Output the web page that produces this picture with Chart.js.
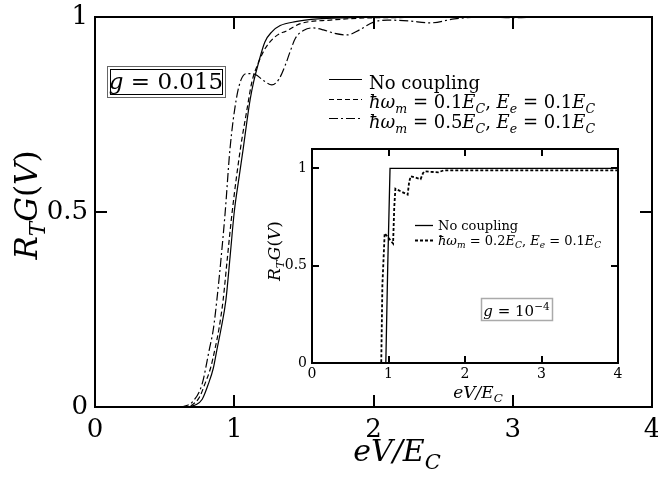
<!DOCTYPE html>
<html>
<head>
<meta charset="utf-8">
<script src="https://cdn.jsdelivr.net/npm/chart.js@4.4.0/dist/chart.umd.min.js"></script>
<style>
  body { margin: 0; background: #fff; }
  #wrap { position: relative; width: 658px; height: 477px; background: #fff; }
  #mainChart { position: absolute; left: 0; top: 0; }
  #insetChart { position: absolute; left: 240px; top: 140px; }
</style>
</head>
<body>
<div id="wrap">
  <canvas id="mainChart" width="658" height="477"></canvas>
  <canvas id="insetChart" width="400" height="270"></canvas>
</div>
<script>
// main panel (g = 0.015): eV/E_C vs R_T G(V)
const xNoCoupling = [0, 0.62, 0.68, 0.72, 0.77, 0.815, 0.85, 0.875, 0.905, 0.94, 0.97, 1.0, 1.035, 1.065, 1.09, 1.115, 1.14, 1.17, 1.22, 1.27, 1.33, 1.44, 1.6, 1.8, 2.1, 3.5];
const yNoCoupling = [0, 0, 0.001, 0.005, 0.02, 0.06, 0.1, 0.146, 0.2, 0.274, 0.385, 0.5, 0.59, 0.664, 0.73, 0.79, 0.835, 0.877, 0.936, 0.962, 0.978, 0.988, 0.995, 0.998, 1, 1];

const xOmega01 = [0, 0.61, 0.66, 0.7, 0.75, 0.79, 0.83, 0.86, 0.89, 0.92, 0.95, 0.985, 1.045, 1.09, 1.127, 1.17, 1.223, 1.28, 1.33, 1.367, 1.475, 1.69, 2.0, 3.5];
const yOmega01 = [0, 0, 0.001, 0.006, 0.025, 0.06, 0.1, 0.146, 0.2, 0.274, 0.38, 0.5, 0.664, 0.76, 0.834, 0.88, 0.92, 0.945, 0.958, 0.963, 0.983, 0.992, 0.998, 1];

const xOmega05 = [0, 0.59, 0.64, 0.7, 0.77, 0.82, 0.85, 0.875, 0.905, 0.935, 0.97, 1.015, 1.05, 1.09, 1.15, 1.21, 1.27, 1.32, 1.367, 1.4, 1.44, 1.5, 1.56, 1.64, 1.72, 1.81, 1.9, 2.0, 2.1, 2.25, 2.41, 2.58, 2.8, 3.0, 3.2, 3.5];
const yOmega05 = [0, 0, 0.002, 0.013, 0.06, 0.146, 0.2, 0.274, 0.38, 0.5, 0.664, 0.79, 0.84, 0.855, 0.853, 0.837, 0.826, 0.84, 0.877, 0.91, 0.946, 0.966, 0.972, 0.967, 0.958, 0.954, 0.967, 0.987, 0.992, 0.99, 0.985, 0.995, 1, 0.998, 1, 1];

// inset (g = 1e-4)
const xInsetNoCoupling = [0, 0.965, 0.99, 1.02, 4];
const yInsetNoCoupling = [0, 0, 0.5, 1, 1];

const xInsetOmega02 = [0, 0.905, 0.92, 0.95, 1.06, 1.075, 1.09, 1.25, 1.27, 1.29, 1.42, 1.45, 1.47, 1.65, 1.72, 4];
const yInsetOmega02 = [0, 0, 0.4, 0.667, 0.614, 0.8, 0.896, 0.865, 0.93, 0.96, 0.945, 0.975, 0.985, 0.98, 0.99, 0.99];

// ticks
const mainXTicks = [0, 1, 2, 3, 4];
const mainXLabels = ['0', '1', '2', '3', '4'];
const mainYTicks = [0, 0.5, 1];
const mainYLabels = ['0', '0.5', '1'];
const insetXTicks = [0, 1, 2, 3, 4];
const insetXLabels = ['0', '1', '2', '3', '4'];
const insetYTicks = [0, 0.5, 1];
const insetYLabels = ['0', '0.5', '1'];

// texts (runs: [text, style]; i = italic, b = subscript, p = superscript)
const xTitleRuns = [['eV/E', 'i'], ['C', 'ib']];
const yTitleRuns = [['R', 'i'], ['T', 'ib'], ['G', 'i'], ['(', 'r'], ['V', 'i'], [')', 'r']];
const mainLegendRuns = [
    [['No coupling', 'r']],
    [['ħω', 'i'], ['m', 'ib'], [' = 0.1', 'r'], ['E', 'i'], ['C', 'ib'], [', ', 'r'], ['E', 'i'], ['e', 'ib'], [' = 0.1', 'r'], ['E', 'i'], ['C', 'ib']],
    [['ħω', 'i'], ['m', 'ib'], [' = 0.5', 'r'], ['E', 'i'], ['C', 'ib'], [', ', 'r'], ['E', 'i'], ['e', 'ib'], [' = 0.1', 'r'], ['E', 'i'], ['C', 'ib']]
];
const insetLegendRuns = [
    [['No coupling', 'r']],
    [['ħω', 'i'], ['m', 'ib'], [' = 0.2', 'r'], ['E', 'i'], ['C', 'ib'], [', ', 'r'], ['E', 'i'], ['e', 'ib'], [' = 0.1', 'r'], ['E', 'i'], ['C', 'ib']]
];
const mainGRuns = [['g', 'i'], [' = 0.015', 'r']];
const insetGRuns = [['g', 'i'], [' = 10', 'r'], ['−4', 'rp']];

const SERIF = '"DejaVu Serif", serif';
const pts = (xs, ys) => xs.map((x, i) => ({ x: x, y: ys[i] }));

function runFont(style, size) {
    const it = style.includes('i') ? 'italic ' : '';
    const s = (style.includes('b') || style.includes('p')) ? size * 0.7 : size;
    return it + s + 'px ' + SERIF;
}

function drawMath(ctx, runs, x, y, size, align) {
    ctx.save();
    ctx.textBaseline = 'alphabetic';
    ctx.textAlign = 'left';
    ctx.fillStyle = '#000';
    let w = 0;
    runs.forEach(([t, st]) => { ctx.font = runFont(st, size); w += ctx.measureText(t).width; });
    let cx = align === 'center' ? x - w / 2 : x;
    runs.forEach(([t, st]) => {
        ctx.font = runFont(st, size);
        const dy = st.includes('b') ? size * 0.25 : (st.includes('p') ? -size * 0.4 : 0);
        ctx.fillText(t, cx, y + dy);
        cx += ctx.measureText(t).width;
    });
    ctx.restore();
}

// frame, inward ticks, titles, legend and label box
function makeDecor(o) {
    return {
        id: 'decor',
        beforeDraw(chart) {
            const { ctx, chartArea: a } = chart;
            if (o.fillArea) {
                ctx.save();
                ctx.fillStyle = '#fff';
                ctx.fillRect(a.left, a.top, a.width, a.height);
                ctx.restore();
            }
        },
        afterDraw(chart) {
            const ctx = chart.ctx;
            const a = chart.chartArea;
            const L = o.tickLen;
            const px = o.xTicks.map(v => Math.round(chart.scales.x.getPixelForValue(v)));
            const py = o.yTicks.map(v => Math.round(chart.scales.y.getPixelForValue(v)));
            ctx.save();
            ctx.strokeStyle = '#000';
            px.forEach(x => {
                ctx.beginPath(); ctx.lineWidth = o.tickWidth;
                ctx.moveTo(x, a.bottom); ctx.lineTo(x, a.bottom - L);
                ctx.moveTo(x, a.top); ctx.lineTo(x, a.top + L);
                ctx.stroke();
            });
            py.forEach(y => {
                ctx.beginPath(); ctx.lineWidth = o.tickWidth;
                ctx.moveTo(a.left, y); ctx.lineTo(a.left + L, y);
                ctx.moveTo(a.right, y); ctx.lineTo(a.right - L, y);
                ctx.stroke();
            });
            ctx.lineWidth = o.frameWidth;
            ctx.strokeRect(a.left, a.top, a.right - a.left, a.bottom - a.top);

            // legend
            const lg = o.legend;
            chart.data.datasets.forEach((ds, i) => {
                ctx.save();
                ctx.setLineDash(ds.borderDash || []);
                ctx.beginPath();
                ctx.lineWidth = ds.borderWidth;
                ctx.moveTo(lg.x0, lg.lineY[i]);
                ctx.lineTo(lg.x1, lg.lineY[i]);
                ctx.stroke();
                ctx.restore();
                drawMath(ctx, lg.runs[i], lg.textX, lg.baseY[i], lg.size, 'left');
            });

            // label box
            const b = o.box;
            ctx.strokeStyle = b.color;
            ctx.lineWidth = b.width;
            ctx.strokeRect(b.x + 0.5, b.y + 0.5, b.w, b.h);
            if (b.inner) {
                ctx.strokeStyle = '#000';
                ctx.lineWidth = 1;
                ctx.strokeRect(b.x + 3.5, b.y + 3.5, b.w - 6, b.h - 6);
            }
            drawMath(ctx, b.runs, b.x + b.w / 2, b.baseY, b.size, 'center');

            // axis titles
            const xt = o.xTitle;
            drawMath(ctx, xTitleRuns, xt.x, xt.y, xt.size, 'center');
            const yt = o.yTitle;
            ctx.translate(yt.x, yt.y);
            ctx.rotate(-Math.PI / 2);
            drawMath(ctx, yTitleRuns, 0, 0, yt.size, 'center');
            ctx.restore();
        }
    };
}

function axes(xTicks, xLabels, yTicks, yLabels, yMax, fontSize, yWidth, xHeight, yPad, xPad) {
    return {
        x: {
            type: 'linear', min: 0, max: 4,
            grid: { display: false, drawTicks: false },
            border: { display: false },
            afterBuildTicks: s => { s.ticks = xTicks.map(v => ({ value: v })); },
            afterFit: s => { s.height = xHeight; s.paddingLeft = 0; s.paddingRight = 0; },
            ticks: { color: '#000', font: { family: SERIF, size: fontSize }, padding: xPad, maxRotation: 0, autoSkip: false, callback: (v, i) => xLabels[i] }
        },
        y: {
            type: 'linear', min: 0, max: yMax,
            grid: { display: false, drawTicks: false },
            border: { display: false },
            afterBuildTicks: s => { s.ticks = yTicks.map(v => ({ value: v })); },
            afterFit: s => { s.width = yWidth; s.paddingTop = 0; s.paddingBottom = 0; },
            ticks: { color: '#000', font: { family: SERIF, size: fontSize }, padding: yPad, autoSkip: false, callback: (v, i) => yLabels[i] }
        }
    };
}

// main chart
new Chart(document.getElementById('mainChart'), {
    type: 'line',
    data: {
        datasets: [
            { data: pts(xNoCoupling, yNoCoupling), borderColor: '#000', borderWidth: 1.2, pointRadius: 0, cubicInterpolationMode: 'monotone' },
            { data: pts(xOmega01, yOmega01), borderColor: '#000', borderWidth: 1.2, borderDash: [5, 3], pointRadius: 0, cubicInterpolationMode: 'monotone' },
            { data: pts(xOmega05, yOmega05), borderColor: '#000', borderWidth: 1.2, borderDash: [9, 3, 2, 3], pointRadius: 0, cubicInterpolationMode: 'monotone' }
        ]
    },
    options: {
        responsive: false,
        animation: false,
        layout: { padding: { top: 17, right: 6, left: 0, bottom: 0 } },
        plugins: { legend: { display: false }, tooltip: { enabled: false } },
        scales: axes(mainXTicks, mainXLabels, mainYTicks, mainYLabels, 1, 26, 95, 70, 7, 8)
    },
    plugins: [makeDecor({
        xTicks: mainXTicks, yTicks: mainYTicks,
        tickLen: 12, tickWidth: 2, frameWidth: 2,
        legend: { x0: 329, x1: 362, textX: 369, lineY: [79.5, 99.5, 118.5], baseY: [89, 108, 128], size: 18, runs: mainLegendRuns },
        box: { x: 107, y: 66, w: 118, h: 31, color: '#666', width: 1, inner: true, runs: mainGRuns, baseY: 89, size: 23 },
        xTitle: { x: 397, y: 461, size: 30 },
        yTitle: { x: 37, y: 205, size: 31 }
    })]
});

// inset chart
new Chart(document.getElementById('insetChart'), {
    type: 'line',
    data: {
        datasets: [
            { data: pts(xInsetNoCoupling, yInsetNoCoupling), borderColor: '#000', borderWidth: 1.3, pointRadius: 0, tension: 0 },
            { data: pts(xInsetOmega02, yInsetOmega02), borderColor: '#000', borderWidth: 1.8, borderDash: [3, 2], pointRadius: 0, tension: 0 }
        ]
    },
    options: {
        responsive: false,
        animation: false,
        layout: { padding: { top: 9, right: 22, left: 0, bottom: 0 } },
        plugins: { legend: { display: false }, tooltip: { enabled: false } },
        scales: axes(insetXTicks, insetXLabels, insetYTicks, insetYLabels, 1.1, 14, 72, 47, 5, 3)
    },
    plugins: [makeDecor({
        fillArea: true,
        xTicks: insetXTicks, yTicks: insetYTicks,
        tickLen: 7, tickWidth: 2, frameWidth: 2,
        legend: { x0: 175, x1: 193, textX: 198, lineY: [85.5, 100.5], baseY: [90, 105], size: 13, runs: insetLegendRuns },
        box: { x: 241, y: 158, w: 71, h: 22, color: '#aaa', width: 1.5, inner: false, runs: insetGRuns, baseY: 176, size: 15 },
        xTitle: { x: 238, y: 258, size: 17 },
        yTitle: { x: 40, y: 111, size: 17 }
    })]
});
</script>
</body>
</html>
